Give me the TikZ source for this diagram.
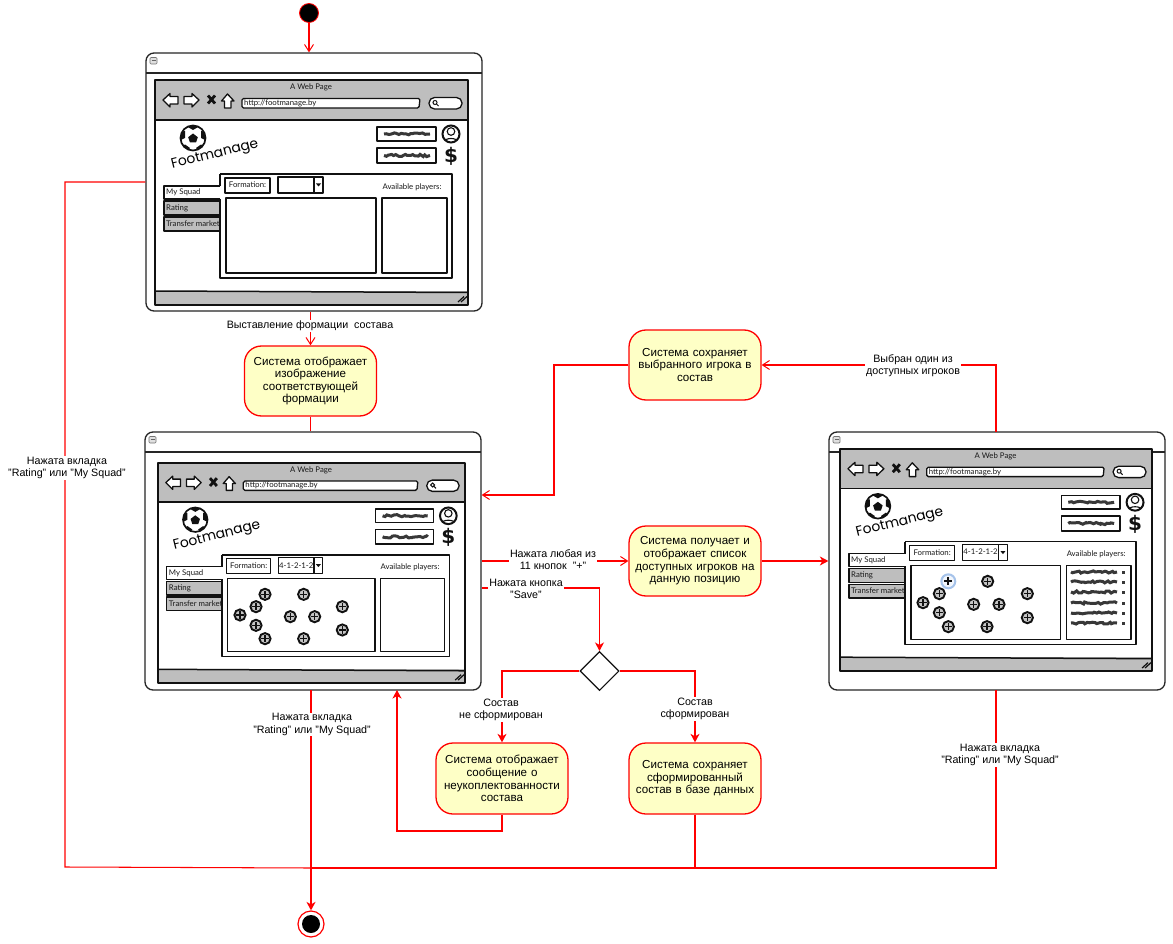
\documentclass[tikz,border=0pt]{standalone}
\usepackage{fontspec}
\setmainfont{Liberation Sans}
\newfontfamily\sketchfont{Lato}
\newfontfamily\logofont{Poppins}
\newfontfamily\iconfont{DejaVu Sans}
\usetikzlibrary{arrows.meta,decorations.pathmorphing,shapes.geometric}
\definecolor{flowred}{HTML}{FF0000}
\definecolor{actfill}{HTML}{FEFFC6}
\definecolor{barfill}{HTML}{BEBEBE}
\definecolor{inkc}{HTML}{111111}
\definecolor{halo}{HTML}{A6C3EA}
\tikzset{
  flowline/.style={draw=flowred,line width=1.05pt,line join=miter},
  openflow/.style={flowline,-{Straight Barb[length=7pt,width=9pt,line width=1pt]}},
  solidflow/.style={flowline,line width=1.1pt,-{Stealth[length=8.5pt,width=9pt,inset=2.5pt]}},
  heavyflow/.style={draw=flowred,line width=1.4pt},
  action/.style={draw=flowred,line width=1.3pt,fill=actfill,rounded corners=17pt,minimum width=132pt,minimum height=70pt,text width=128pt,inner sep=0pt,align=center,font=\fontsize{11.6}{12.6}\selectfont,text=black},
  lbl/.style={fill=white,inner sep=1pt,align=center,font=\fontsize{10.7}{12.2}\selectfont,text=black},
  window/.style={draw=black!85,line width=1.3pt,fill=white,rounded corners=8pt,minimum width=336pt,minimum height=258pt,inner sep=0pt},
  ink/.style={draw=inkc,line width=1.3pt,line join=round},
  inkthick/.style={draw=inkc,line width=1.5pt,line join=round},
  tiny/.style={inner sep=0pt,font=\sketchfont\fontsize{7.8}{8}\selectfont,text=black!90},
  scrib/.style={draw=black!78,line width=3pt,decorate,decoration={random steps,segment length=2.4pt,amplitude=1.1pt}},
}
\newcommand{\plusb}[2]{%
  \draw[inkc,line width=1.9pt,fill=barfill!90] (#1,#2) circle (5.6);
  \draw[inkc,line width=1.5pt] (#1-3.6,#2) -- (#1+3.6,#2) (#1,#2-3.6) -- (#1,#2+3.6);}
\newcommand{\winextras}[3]{% x y titleline-width
  \draw[black!85,line width=1.2pt] (#1,#2+20) -- (#1+#3,#2+20);
  \draw[black!55,line width=.7pt,fill=black!12,rounded corners=1pt] (#1+4,#2+4.5) rectangle (#1+11,#2+11);
  \draw[black!60,line width=.9pt] (#1+5.5,#2+7.8) -- (#1+9.5,#2+7.8);}
% browser mock: x y w h prefix combotext
\newcommand{\browser}[6]{%
\begin{scope}[shift={(#1,#2)},xscale=#3/313,yscale=#4/225]
  \fill[white] (0,0) rectangle (313,225);
  \fill[barfill] (0,0) rectangle (313,40);
  \fill[barfill] (0,211) rectangle (313,225);
  \draw[inkthick] (0,0) rectangle (313,225);
  \draw[inkthick] (0,40) -- (313,40);
  \draw[inkthick] (0,211) -- (313,212.5);
  \path (156,7) node[tiny] (#5title) {A Web Page};
  % nav icons
  \draw[ink,fill=white] (8,20) -- (15,13.5) -- (15,16.5) -- (23,16.5) -- (23,24) -- (15,24) -- (15,27) -- cycle;
  \draw[ink,fill=white] (44,20) -- (37,13.5) -- (37,16.5) -- (29,16.5) -- (29,24) -- (37,24) -- (37,27) -- cycle;
  \draw[inkc,line width=2.8pt] (53,15.5) -- (60,23.5) (60,15.5) -- (53,23.5);
  \draw[ink,fill=white] (72.5,14) -- (79,21) -- (76,21) -- (76,28) -- (69.5,28) -- (69.5,21) -- (66.5,21) -- cycle;
  \draw[ink,fill=white,rounded corners=1.5pt] (87,18.5) -- (265,18.5) -- (264,28) -- (87,28) -- cycle;
  \path (89,23.2) node[tiny,anchor=west] (#5url) {http://footmanage.by};
  \draw[ink,fill=white,rounded corners=5.5pt] (274,17.5) rectangle (307,29);
  \draw[inkc,line width=1pt] (280,22.5) circle (2) (281.5,24) -- (283.5,26);
  % ball
  \begin{scope}
    \draw[inkc,line width=1.7pt,fill=white] (38,58) circle (12.5);
    \clip (38,58) circle (12.5);
    \fill[inkc] (38,53.5) -- (42.8,57.2) -- (41,62.5) -- (35,62.5) -- (33.2,57.2) -- cycle;
    \fill[inkc] (38,44) -- (45,46) -- (38,50) -- (31,46) -- cycle;
    \fill[inkc] (51,52) -- (52,61) -- (46,58) -- (46,51) -- cycle;
    \fill[inkc] (25,52) -- (24,61) -- (30,58) -- (30,51) -- cycle;
    \fill[inkc] (30,64.5) -- (35,68) -- (31,73) -- (25,68) -- cycle;
    \fill[inkc] (46,64.5) -- (41,68) -- (45,73) -- (51,68) -- cycle;
  \end{scope}
  \path (60,75) node[rotate=14,inner sep=0pt,font=\logofont\fontsize{13.8}{15}\selectfont,text=black] (#5logo) {Footmanage};
  % top right
  \draw[ink,line width=1.4pt,fill=white] (222,47) rectangle (281,61);
  \draw[ink,line width=1.4pt,fill=white] (222,68) rectangle (281,83);
  \draw[scrib] (229,54) -- (275,54);
  \draw[scrib] (229,75.5) -- (275,75.5);
  \begin{scope}
    \draw[inkc,line width=2pt,fill=white] (296,54) circle (8.5);
    \clip (296,54) circle (8.5);
    \draw[inkc,line width=1.1pt] (296,51.5) circle (3.8);
    \draw[inkc,line width=1.1pt] (288,63) .. controls (289,57) and (303,57) .. (304,63);
  \end{scope}
  \path (296,76) node[inner sep=0pt,font=\iconfont\bfseries\fontsize{20}{20}\selectfont,text=inkc] (#5dollar) {\$};
  % tabs and panel
  \draw[ink,fill=barfill] (9,121) rectangle (66,135);
  \draw[ink,fill=barfill] (9,137) rectangle (66,151);
  \draw[inkthick,fill=white] (65,94) -- (297,94) -- (297,198) -- (65,198) -- (65,119) -- (65,94);
  \fill[white] (9,106) rectangle (66.5,119);
  \draw[ink] (65,106) -- (9,106) -- (9,119) -- (65,119);
  \path (11,112.5) node[tiny,anchor=west] (#5tabA) {My Squad};
  \path (11,128) node[tiny,anchor=west] (#5tabB) {Rating};
  \path (11,144) node[tiny,anchor=west] (#5tabC) {Transfer market};
  \draw[ink,line width=1.3pt,fill=white] (70,98) rectangle (115,113);
  \path (92.5,105) node[tiny] (#5form) {Formation:};
  \draw[ink,line width=1.3pt,fill=white] (123,97) rectangle (168,113);
  \draw[ink] (159,97) -- (159,113);
  \fill[inkc] (161,103.5) -- (166,103.5) -- (163.5,106.5) -- cycle;
  \path (141,104.5) node[tiny] (#5combo) {#6};
  \path (257,107) node[tiny] (#5avail) {Available players:};
  \draw[inkthick,fill=white] (71,118) rectangle (221,193);
  \draw[inkthick,fill=white] (227,118) rectangle (292,193);
  \draw[inkc,line width=1.2pt] (303,222) -- (309,216.5) (306,222) -- (312,216.5);
\end{scope}}
\begin{document}
\begin{tikzpicture}[x=1pt,y=-1pt]
\pgfmathsetseed{7}
\fill[white,use as bounding box] (0,0) rectangle (1173,944);
% activity-diagram nodes
\node[circle,fill=black,draw=flowred,line width=.8pt,minimum size=19pt,inner sep=0pt] (start) at (309,13) {};
\node[window] (w1) at (314,182) {};
\node[window] (w2) at (313,561) {};
\node[window] (w3) at (997,561) {};
\node[action] (act1) at (310.5,381) {Система отображает\\изображение\\соответствующей\\формации};
\node[action] (act2) at (695,561) {Система получает и\\отображает список\\доступных игроков на\\данную позицию};
\node[action] (act3) at (695,365) {Система сохраняет\\выбранного игрока в\\состав};
\node[action,minimum height=71pt] (act4) at (502,778.5) {Система отображает\\сообщение о\\неукоплектованности\\состава};
\node[action,minimum height=71pt] (act5) at (695,778.5) {Система сохраняет\\сформированный\\состав в базе данных};
\node[diamond,draw=inkc,line width=1.1pt,fill=white,minimum width=39pt,minimum height=39pt,inner sep=0pt,shape aspect=1] (dec) at (599.5,671) {};
\node[circle,draw=flowred,line width=1.2pt,fill=white,minimum size=26pt,inner sep=0pt] (stopo) at (311,924) {};
\node[circle,fill=black,minimum size=18pt,inner sep=0pt] (stopi) at (311,924) {};
\coordinate (junc) at (311,868);
% mockups
\winextras{146}{53}{336}
\winextras{145}{432}{336}
\winextras{829}{432}{336}
\browser{155}{80}{313}{225}{ba}{}
\browser{158}{463}{307}{220}{bb}{4-1-2-1-2}
\browser{840}{449}{312}{222}{bc}{4-1-2-1-2}
% plus buttons window 2
\foreach \a/\b in {375/508,348/545,300/570,348/601,375/641,491/508,451/575,524/575,491/641,607/545,607/615}
  {\plusb{140+\a/3}{425+\b/3}}
% plus buttons window 3
\foreach \a/\b in {385/469,358/506,309/533,358/563,385/605,503/469,461/538,537/538,501/605,622/506,622/578}
  {\plusb{820+\a/3}{425+\b/3}}
\fill[halo] (948.3,581.3) circle (8);
\fill[white!85!halo] (948.3,581.3) circle (5.8);
\draw[inkc,line width=1.7pt] (944.4,581.3) -- (952.2,581.3) (948.3,577.4) -- (948.3,585.2);
% player list window 3
\foreach \yy in {572,582,592,603,613,623}{
  \draw[scrib] (1071,\yy) -- (1117,\yy);
  \draw[scrib] (1122,\yy) -- (1125,\yy);
}
% connectors
\draw[openflow] (start) -- (start |- w1.north);
\draw[openflow] (act1 |- w1.south) -- (act1.north);
\draw[flowline] (act1.south) -- (act1 |- w2.north);
\draw[openflow] (w2.east |- act2) -- (act2.west);
\draw[solidflow] (act2.east) -- (w3.west |- act2);
\coordinate (w3top) at (996,432);
\draw[openflow] (w3top) -- (996,365) -- (act3.east);
\draw[openflow] (act3.west) -- (554,365) -- (554,495) -- (w2.east |- 0,495);
\draw[solidflow] (w2.east |- 0,588) -- (dec |- 0,588) -- (dec.north);
\draw[solidflow] (dec.west) -- (act4 |- dec) -- (act4.north);
\draw[solidflow] (dec.east) -- (act5 |- dec) -- (act5.north);
\draw[solidflow] (act4.south) -- (502,831) -- (397,831) -- (397,690);
\draw[flowline] (w1.west) -- (65,182) -- (65,867) -- (junc);
\draw[heavyflow] (996,690) -- (996,868) -- (junc);
\draw[heavyflow] (act5.south) -- (act5 |- junc);
\draw[solidflow,line width=1.5pt] (311,690) -- (stopo.north);
% labels
\node[lbl] (l1) at (310,326) {Выставление формации\ \ состава};
\node[lbl] (l2) at (553,560) {Нажата любая из\\11 кнопок\ \ "+"};
\node[lbl] (l3) at (526,589) {Нажата кнопка\\"Save"};
\node[lbl] (l4) at (913,365.5) {Выбран один из\\доступных игроков};
\node[lbl] (l5) at (501,710) {Состав\\не сформирован};
\node[lbl] (l6) at (695,709) {Состав\\сформирован};
\node[lbl] (l7) at (312,724.5) {Нажата вкладка\\"Rating" или "My Squad"};
\node[lbl] (l8) at (67,468) {Нажата вкладка\\"Rating" или "My Squad"};
\node[lbl] (l9) at (1000,755) {Нажата вкладка\\"Rating" или "My Squad"};
\end{tikzpicture}
\end{document}
